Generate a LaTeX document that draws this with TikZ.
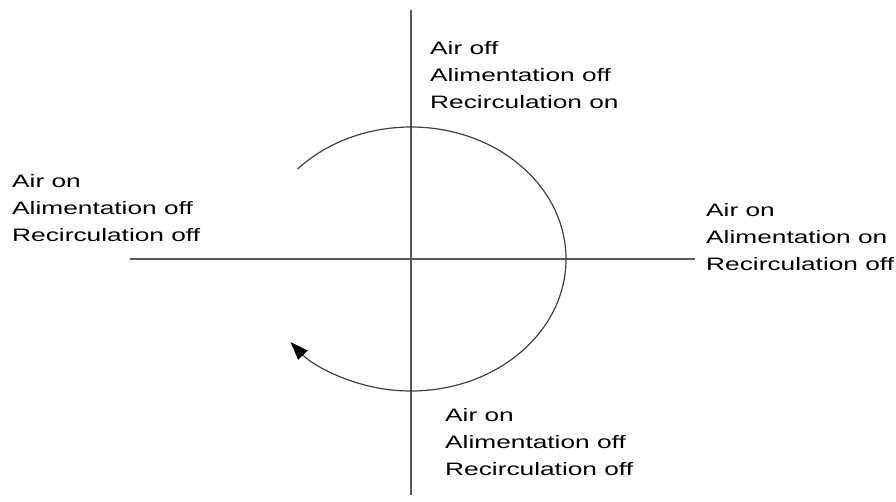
\documentclass[tikz,border=0pt]{standalone}
\usepackage{fontspec}
\setmainfont[FakeStretch=1.46]{Liberation Sans}
\usetikzlibrary{arrows.meta}
\begin{document}
\begin{tikzpicture}[x=1pt,y=-1pt,
  axis/.style={draw=black!65,line width=1.1pt},
  cyc/.style={draw=black!75,line width=1.2pt,-{Triangle[length=18pt,width=13pt,color=black]}},
  lbl/.style={inner sep=0pt,anchor=base west,align=left,font=\fontsize{18pt}{27pt}\selectfont,text=black}]
\useasboundingbox (0,0) rectangle (896,501);
\coordinate (c) at (411,259);
\coordinate (vt) at (411,10);
\coordinate (vb) at (411,495);
\coordinate (hl) at (130,259);
\coordinate (hr) at (695,259);
\draw[axis] (vt) -- (vb);
\draw[axis] (hl) -- (hr);
\draw[cyc] (c) ++(137:155pt and 132pt) arc[start angle=137,end angle=-141,x radius=155pt,y radius=132pt];
\node[lbl] (top) at (430,108) {Air off\\Alimentation off\\Recirculation on};
\node[lbl] (left) at (12,241) {Air on\\Alimentation off\\Recirculation off};
\node[lbl] (right) at (706,270) {Air on\\Alimentation on\\Recirculation off};
\node[lbl] (bottom) at (445,475) {Air on\\Alimentation off\\Recirculation off};
\end{tikzpicture}
\end{document}
